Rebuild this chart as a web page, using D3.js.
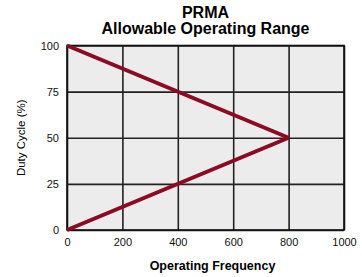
<!DOCTYPE html>
<html><head><meta charset="utf-8">
<script src="https://cdn.jsdelivr.net/npm/d3@7"></script>
<style>body{margin:0;background:#fff}svg{display:block}</style>
</head><body>
<script>
const titleLines = ["PRMA", "Allowable Operating Range"];
const xLabel = "Operating Frequency";
const yLabel = "Duty Cycle (%)";
const xTicks = [0, 200, 400, 600, 800, 1000];
const yTicks = [0, 25, 50, 75, 100];
const upperLine = [{f: 0, d: 100}, {f: 800, d: 50}];
const lowerLine = [{f: 0, d: 0}, {f: 800, d: 50}];

const W = 362, H = 277;
const m = {left: 67, right: 18, top: 45.5, bottom: 47};
const svg = d3.select("body").append("svg").attr("width", W).attr("height", H);
const x = d3.scaleLinear().domain([0, 1000]).range([m.left, W - m.right]);
const y = d3.scaleLinear().domain([0, 100]).range([H - m.bottom, m.top]);
const font = "Liberation Sans, Arial, sans-serif";

svg.append("rect").attr("x", x(0)).attr("y", y(100)).attr("width", x(1000) - x(0)).attr("height", y(0) - y(100)).attr("fill", "#ececec");

const gx = svg.append("g").attr("transform", `translate(0,${y(0)})`)
  .call(d3.axisBottom(x).tickValues(xTicks).tickSize(-(y(0) - y(100))).tickPadding(8).tickFormat(d3.format("d")));
const gy = svg.append("g").attr("transform", `translate(${x(0)},0)`)
  .call(d3.axisLeft(y).tickValues(yTicks).tickSize(-(x(1000) - x(0))).tickPadding(8).tickFormat(d3.format("d")));
[gx, gy].forEach(g => {
  g.select(".domain").remove();
  g.selectAll(".tick line").attr("stroke", "#222").attr("stroke-width", 1.6);
  g.selectAll(".tick text").attr("fill", "#111").style("font-family", font).style("font-size", "11px");
});
svg.append("rect").attr("x", x(0)).attr("y", y(100)).attr("width", x(1000) - x(0)).attr("height", y(0) - y(100)).attr("fill", "none").attr("stroke", "#111").attr("stroke-width", 1.6);

const line = d3.line().x(d => x(d.f)).y(d => y(d.d));
[upperLine, lowerLine].forEach(dat => {
  svg.append("path").datum(dat).attr("d", line).attr("fill", "none").attr("stroke", "#8c0a24").attr("stroke-width", 4);
});

const cx = (x(0) + x(1000)) / 2;
svg.append("text").attr("x", cx).attr("y", 18).attr("text-anchor", "middle")
  .style("font-family", font).style("font-weight", "bold").style("font-size", "16px").text(titleLines[0]);
svg.append("text").attr("x", cx).attr("y", 34).attr("text-anchor", "middle")
  .style("font-family", font).style("font-weight", "bold").style("font-size", "16px").text(titleLines[1]);
svg.append("text").attr("x", cx + 7).attr("y", 270).attr("text-anchor", "middle")
  .style("font-family", font).style("font-weight", "bold").style("font-size", "12.5px").text(xLabel);
svg.append("text").attr("transform", `translate(25,${(y(0) + y(100)) / 2}) rotate(-90)`).attr("text-anchor", "middle")
  .style("font-family", font).style("font-size", "11.5px").text(yLabel);
</script>
</body></html>
